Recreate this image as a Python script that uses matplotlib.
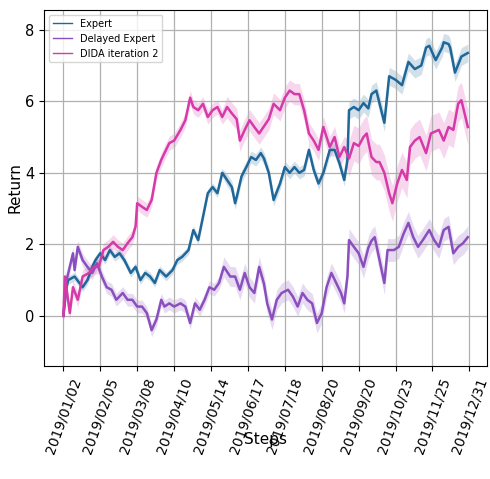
import numpy as np
import matplotlib
matplotlib.use("Agg")
import matplotlib.pyplot as plt

# tick labels: one every 23 trading days
tick_labels = ["2019/01/02", "2019/02/05", "2019/03/08", "2019/04/10",
               "2019/05/14", "2019/06/17", "2019/07/18", "2019/08/20",
               "2019/09/20", "2019/10/23", "2019/11/25", "2019/12/31"]
tick_steps = [0, 23, 46, 69, 92, 115, 138, 161, 184, 207, 230, 253]

expert_steps = [0, 2, 3, 7, 12, 15, 18, 20, 23, 26, 29, 32, 35, 38, 42, 45, 48, 51, 54, 57,
                60, 64, 68, 71, 74, 78, 81, 84, 87, 90, 93, 96, 99, 102, 105, 107, 108, 111, 114, 117,
                120, 123, 125, 128, 131, 135, 138, 141, 144, 147, 150, 153, 156, 159, 162, 166, 169, 172, 175, 177,
                178, 181, 184, 187, 190, 192, 195, 200, 203, 207, 211, 215, 219, 223, 226, 228, 232, 236, 237, 240,
                241, 244, 248, 252]
expert_mean = [0.0, 0.8, 1.0, 1.1, 0.8, 1.0, 1.37, 1.56, 1.75, 1.56, 1.84, 1.65, 1.75, 1.56, 1.2, 1.37, 1.0, 1.2, 1.1, 0.92,
               1.28, 1.1, 1.28, 1.56, 1.65, 1.84, 2.4, 2.12, 2.77, 3.43, 3.6, 3.43, 4.0, 3.8, 3.6, 3.15, 3.32, 3.9, 4.16, 4.44,
               4.36, 4.55, 4.4, 4.0, 3.24, 3.7, 4.16, 4.0, 4.16, 4.0, 4.08, 4.64, 4.08, 3.7, 4.0, 4.64, 4.64, 4.27, 3.8, 4.36,
               5.75, 5.84, 5.75, 5.95, 5.8, 6.2, 6.3, 5.4, 6.7, 6.6, 6.45, 7.1, 6.9, 7.0, 7.5, 7.55, 7.15, 7.5, 7.65, 7.6,
               7.5, 6.8, 7.25, 7.35]
expert_band = [(0, 0.12), (100, 0.17), (178, 0.25)]

delayed_steps = [0, 2, 6, 7, 9, 12, 15, 18, 21, 24, 27, 30, 33, 37, 40, 43, 46, 49, 52, 55,
                 58, 61, 63, 66, 69, 73, 76, 79, 82, 85, 88, 91, 94, 97, 100, 104, 107, 110, 113, 116,
                 119, 122, 125, 127, 130, 133, 136, 140, 143, 146, 149, 152, 155, 158, 161, 164, 167, 170, 173, 175,
                 177, 178, 181, 184, 187, 190, 192, 194, 197, 200, 202, 206, 209, 212, 215, 218, 221, 224, 228, 231,
                 234, 237, 240, 243, 246, 249, 252]
delayed_mean = [0.0, 1.0, 1.75, 1.28, 1.93, 1.56, 1.37, 1.2, 1.47, 1.1, 0.8, 0.73, 0.45, 0.64, 0.45, 0.45, 0.26, 0.26, 0.08, -0.4,
                -0.1, 0.45, 0.26, 0.35, 0.26, 0.35, 0.26, -0.2, 0.35, 0.17, 0.45, 0.8, 0.73, 0.92, 1.37, 1.1, 1.1, 0.73, 1.2, 0.8,
                0.64, 1.37, 0.9, 0.35, -0.1, 0.45, 0.64, 0.73, 0.54, 0.26, 0.64, 0.45, 0.35, -0.2, 0.08, 0.8, 1.2, 0.92, 0.64, 0.35,
                1.1, 2.12, 1.93, 1.75, 1.37, 1.9, 2.1, 2.2, 1.56, 0.92, 1.84, 1.84, 1.93, 2.3, 2.6, 2.2, 1.93, 2.12, 2.4, 2.12,
                1.93, 2.4, 2.49, 1.75, 1.93, 2.03, 2.2]
delayed_band = [(0, 0.18), (100, 0.28), (178, 0.32)]

dida_steps = [0, 1, 4, 6, 9, 12, 16, 19, 22, 25, 28, 31, 34, 37, 40, 43, 45, 46, 49, 52,
              55, 58, 61, 63, 66, 69, 73, 76, 79, 81, 84, 87, 90, 93, 96, 99, 102, 105, 108, 110,
              113, 116, 119, 122, 125, 128, 131, 135, 138, 141, 144, 147, 150, 153, 156, 159, 162, 166, 169, 172,
              175, 178, 181, 184, 187, 189, 192, 195, 197, 200, 203, 205, 208, 211, 214, 216, 219, 222, 226, 229,
              234, 237, 240, 243, 246, 248, 250, 252]
dida_mean = [0.0, 1.1, 0.08, 0.8, 0.45, 1.1, 1.2, 1.37, 1.37, 1.84, 1.93, 2.07, 1.93, 1.84, 2.03, 2.2, 2.5, 3.15, 3.05, 2.96,
             3.24, 4.0, 4.36, 4.55, 4.83, 4.9, 5.2, 5.47, 6.1, 5.84, 5.75, 5.93, 5.56, 5.75, 5.84, 5.56, 5.84, 5.66, 5.5, 4.9,
             5.2, 5.47, 5.28, 5.1, 5.3, 5.5, 5.93, 5.75, 6.1, 6.3, 6.2, 6.2, 5.75, 5.1, 4.9, 4.64, 5.28, 4.72, 5.0, 4.44,
             4.72, 4.4, 4.83, 4.75, 5.0, 5.1, 4.44, 4.3, 4.3, 4.0, 3.43, 3.15, 3.7, 4.08, 3.8, 4.72, 4.9, 5.0, 4.55, 5.1,
             5.2, 4.9, 5.28, 5.2, 5.93, 6.03, 5.66, 5.28]
dida_band = [(0, 0.2), (100, 0.3), (178, 0.5)]

series = [
    ("Expert", expert_steps, expert_mean, expert_band, "#1f6799"),
    ("Delayed Expert", delayed_steps, delayed_mean, delayed_band, "#8a4fbe"),
    ("DIDA iteration 2", dida_steps, dida_mean, dida_band, "#d63aa8"),
]


def band_width(steps, band):
    steps = np.asarray(steps)
    width = np.zeros(len(steps))
    for start, w in band:
        width[steps >= start] = w
    return width


fig = plt.figure(figsize=(4.9, 4.79), dpi=100)
ax = fig.add_axes([0.09, 0.236, 0.904, 0.743])

for name, steps, mean, band, color in series:
    mean = np.asarray(mean)
    w = band_width(steps, band)
    ax.fill_between(steps, mean - w, mean + w, color=color, alpha=0.2, linewidth=0)
    ax.plot(steps, mean, color=color, linewidth=1.8, label=name)

ax.set_xticks(tick_steps)
ax.set_xticklabels(tick_labels, rotation=70, fontsize=10)
ax.tick_params(axis="y", labelsize=10.5)
ax.set_yticks([0, 2, 4, 6, 8])
ax.set_xlim(-12, 264)
ax.set_ylim(-1.4, 8.55)
ax.grid(True, color="#b0b0b0", linewidth=0.9)
ax.set_xlabel("Steps", fontsize=11)
ax.xaxis.set_label_coords(0.5, -0.185)
ax.set_ylabel("Return", fontsize=11, labelpad=2)

leg = ax.legend(loc="upper left", fontsize=7)
for line in leg.get_lines():
    line.set_linewidth(1.0)

fig.savefig("out.png", dpi=100)
